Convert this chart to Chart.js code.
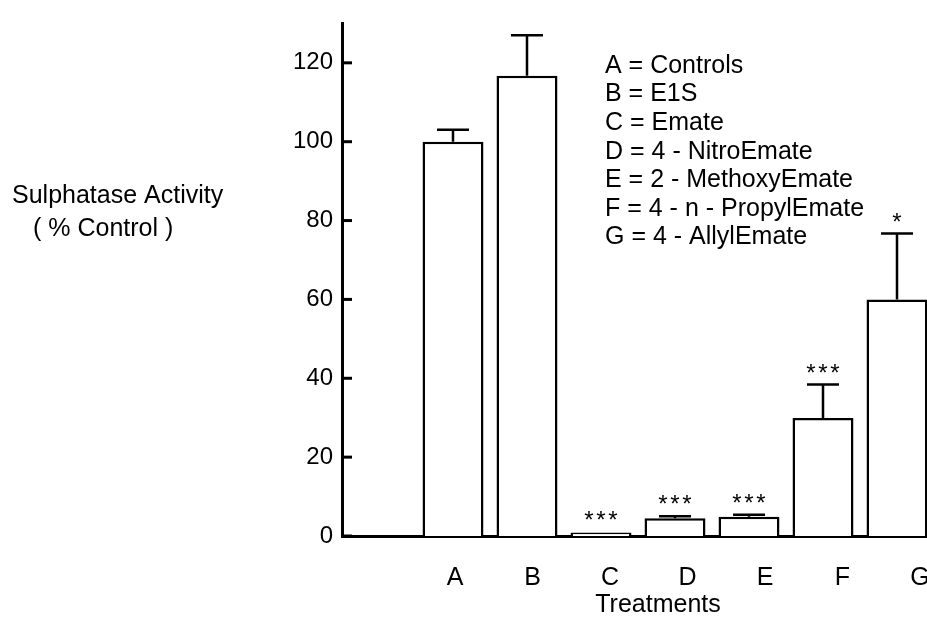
<!DOCTYPE html>
<html>
<head>
<meta charset="utf-8">
<script src="https://cdn.jsdelivr.net/npm/chart.js@4"></script>
<style>
    html, body { margin: 0; padding: 0; background: #fff; overflow: hidden; }
    canvas { display: block; }
</style>
</head>
<body>
<canvas id="graph" width="940" height="618"></canvas>
<script>
// Data
var categories = ['A', 'B', 'C', 'D', 'E', 'F', 'G'];
var activity = [100, 116.7, 0.9, 4.5, 4.9, 29.9, 60.0];
var errors = [3.0, 10.3, 0, 0.5, 0.5, 8.5, 16.7];
var stars = ['', '', '***', '***', '***', '***', '*'];
var yTicks = [0, 20, 40, 60, 80, 100, 120];
var legendLines = [
    'A = Controls',
    'B = E1S',
    'C = Emate',
    'D = 4 - NitroEmate',
    'E = 2 - MethoxyEmate',
    'F = 4 - n - PropylEmate',
    'G = 4 - AllylEmate'
];
var yTitle = ['Sulphatase Activity', '( % Control )'];
var xTitle = 'Treatments';

var FONT = '"Liberation Sans", Arial, Helvetica, sans-serif';

// empty slot in front of A, so the bars start away from the axis
var slots = [''].concat(categories);

var extras = {
    id: 'extras',
    afterDatasetsDraw(chart) {
        const ctx = chart.ctx;
        const y = chart.scales.y;
        const area = chart.chartArea;
        const meta = chart.getDatasetMeta(0);
        ctx.save();
        ctx.strokeStyle = '#000';
        ctx.fillStyle = '#000';

        // error bars (upper only)
        ctx.lineWidth = 2.5;
        meta.data.forEach((bar, i) => {
            const err = errors[i - 1];
            if (!err) return;
            const top = y.getPixelForValue(activity[i - 1] + err);
            ctx.beginPath();
            ctx.moveTo(bar.x, bar.y);
            ctx.lineTo(bar.x, top);
            ctx.moveTo(bar.x - 16, top);
            ctx.lineTo(bar.x + 16, top);
            ctx.stroke();
        });

        // significance stars, drawn one by one with wider spacing
        ctx.font = '24px ' + FONT;
        ctx.textAlign = 'center';
        ctx.textBaseline = 'alphabetic';
        meta.data.forEach((bar, i) => {
            const s = stars[i - 1];
            if (!s) return;
            const top = y.getPixelForValue(activity[i - 1] + (errors[i - 1] || 0));
            const step = 12;
            const x0 = bar.x - (s.length - 1) * step / 2;
            for (let k = 0; k < s.length; k++) {
                ctx.fillText(s[k], x0 + k * step, top - 4);
            }
        });

        // inward tick marks on the y axis
        ctx.lineWidth = 3;
        yTicks.forEach(v => {
            const py = y.getPixelForValue(v);
            ctx.beginPath();
            ctx.moveTo(area.left, py);
            ctx.lineTo(area.left + 10, py);
            ctx.stroke();
        });

        // key
        ctx.font = '25px ' + FONT;
        ctx.textAlign = 'left';
        ctx.textBaseline = 'middle';
        legendLines.forEach((t, i) => ctx.fillText(t, 605, 66 + i * 28.6));

        // axis titles
        ctx.fillText(yTitle[0], 12, 196);
        ctx.fillText(yTitle[1], 33, 229);
        ctx.textAlign = 'center';
        ctx.fillText(xTitle, 658, 605);
        ctx.restore();
    }
};

var ctx = document.getElementById('graph').getContext('2d');
var Graph = new Chart(ctx, {
    type: 'bar',
    data: {
        labels: slots,
        datasets: [{
            data: [null].concat(activity),
            backgroundColor: '#fff',
            borderColor: '#000',
            borderWidth: 2.5,
            categoryPercentage: 1,
            barPercentage: 0.824,
            xAxisID: 'x',
            yAxisID: 'y'
        }]
    },
    options: {
        responsive: false,
        animation: false,
        devicePixelRatio: 1,
        layout: { padding: { top: 10, right: 6, left: 0, bottom: 0 } },
        plugins: { legend: { display: false }, tooltip: { enabled: false } },
        scales: {
            x: {
                display: false
            },
            // tick labels sit slightly apart from the bar centres in the print
            xl: {
                type: 'linear',
                position: 'bottom',
                offset: false,
                min: -1.458,
                max: 6.181,
                afterBuildTicks: s => { s.ticks = categories.map((c, i) => ({ value: i })); },
                afterFit: s => { s.height = 82; s.paddingLeft = 0; s.paddingRight = 0; },
                grid: { display: false, drawTicks: false, offset: false },
                border: { display: true, color: '#000', width: 3 },
                ticks: {
                    autoSkip: false,
                    maxRotation: 0,
                    padding: 27,
                    color: '#000',
                    font: { family: FONT, size: 25 },
                    callback: v => categories[v] || ''
                }
            },
            y: {
                min: 0,
                max: 130,
                afterBuildTicks: s => { s.ticks = yTicks.map(v => ({ value: v })); },
                afterFit: s => { s.width = 342; },
                grid: { display: false, drawTicks: false },
                border: { display: true, color: '#000', width: 3 },
                ticks: {
                    padding: 9,
                    color: '#000',
                    font: { family: FONT, size: 24 }
                }
            }
        }
    },
    plugins: [extras]
});
</script>
</body>
</html>
